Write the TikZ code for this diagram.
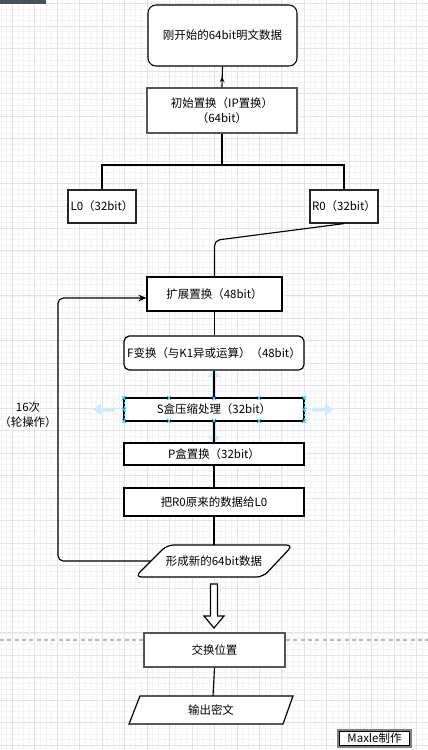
\documentclass[tikz,border=0pt]{standalone}
\usepackage{fontspec}
\setmainfont{Noto Sans CJK SC}
\usetikzlibrary{arrows.meta,decorations.markings,calc}
\definecolor{gridmin}{HTML}{F3F3F3}
\definecolor{gridmaj}{HTML}{E3E3E3}
\definecolor{selblue}{HTML}{29B6F2}
\definecolor{hoverblue}{HTML}{D0E9F7}
\definecolor{boxgray}{HTML}{555555}
\definecolor{topbar}{HTML}{4A4F55}
\begin{document}
\begin{tikzpicture}[x=0.75pt,y=-0.75pt,
  font=\fontsize{8.6pt}{11pt}\selectfont,
  box/.style={draw, fill=white, line width=0.9pt, inner sep=1pt, align=center},
  wh/.style 2 args={minimum width=#1*0.75pt, minimum height=#2*0.75pt},
  conn/.style={draw, line width=0.85pt},
  midarrow/.style={postaction={decorate}, decoration={markings, mark=at position 0.5 with {\arrow{Stealth[length=4pt,width=3.5pt]}}}},
  hov/.style={fill=hoverblue, draw=none},
  selx/.style={draw=selblue, line width=0.6pt}
]
\useasboundingbox (0,0) rectangle (428,750);
\fill[white] (0,0) rectangle (428,750);
% grid
\foreach \i in {0,...,76} \draw[gridmin, line width=0.6pt] ({1.06+\i*5.6175},0) -- ({1.06+\i*5.6175},750);
\foreach \i in {0,...,132} \draw[gridmin, line width=0.6pt] (0,{3.8+\i*5.6175}) -- (428,{3.8+\i*5.6175});
\foreach \i in {0,...,18} \draw[gridmaj, line width=0.75pt] ({12.3+\i*22.47},0) -- ({12.3+\i*22.47},750);
\foreach \i in {0,...,33} \draw[gridmaj, line width=0.75pt] (0,{3.8+\i*22.47}) -- (428,{3.8+\i*22.47});
% top-left bar
\fill[topbar] (0,0) rectangle (46,3.5);
% page break dashed line
\draw[gray!55, line width=0.8pt, dash pattern=on 3pt off 2.5pt] (0,640) -- (428,640);
% hover arrows
\path[hov] (93,409.5) -- (101,403.5) -- (101,407.5) -- (115,407.5) -- (115,411.5) -- (101,411.5) -- (101,415.5) -- cycle;
\path[hov] (333,409.5) -- (325,403.5) -- (325,407.5) -- (312,407.5) -- (312,411.5) -- (325,411.5) -- (325,415.5) -- cycle;
\path[hov] (214,369) -- (208,377) -- (212,377) -- (212,396) -- (216,396) -- (216,377) -- (220,377) -- cycle;
\path[hov] (214,444) -- (208,436) -- (212,436) -- (212,423) -- (216,423) -- (216,436) -- (220,436) -- cycle;
% nodes
\node[box, rounded corners=6pt, wh={149}{61}, line width=0.8pt] (top) at (222.5,35.5) {刚开始的64bit明文数据};
\node[box, draw=boxgray, line width=1.4pt, wh={150}{45}] (ip) at (222,110.5) {初始置换（IP置换）\\（64bit）};
\node[box, draw=black!85, wh={68}{33}] (l0) at (102,206.5) {L0（32bit）};
\node[box, draw=black!85, wh={68}{33}] (r0) at (344,206.5) {R0（32bit）};
\node[box, wh={135}{34}] (exp) at (214.5,294) {扩展置换（48bit）};
\node[box, rounded corners=4pt, wh={180}{34}] (fbox) at (214,353) {F变换（与K1异或运算）（48bit）};
\node[box, wh={180}{23}] (sbox) at (214,409.5) {S盒压缩处理（32bit）};
\node[box, wh={180}{22}] (pbox) at (214,454) {P盒置换（32bit）};
\node[box, wh={180}{28}] (r2l) at (214,502) {把R0原来的数据给L0};
\draw[fill=white, line width=0.9pt, rounded corners=5pt] (167,545) -- (293,545) -- (263,577) -- (135,577) -- cycle;
\node[inner sep=1pt] (newd) at (214,561) {形成新的64bit数据};
\coordinate (ndtop) at (214,545);
\coordinate (ndleft) at (151,561);
\node[box, draw=boxgray, line width=1.4pt, wh={141}{34}] (swap) at (214.5,650) {交换位置};
\draw[fill=white, line width=0.9pt] (140,696) -- (293,696) -- (283,724) -- (129,724) -- cycle;
\node[inner sep=1pt] (outp) at (211,710) {输出密文};
\coordinate (outtop) at (213,696);
\node[draw=gray, fill=white, line width=0.9pt, wh={73}{17}, inner sep=0pt] (mx) at (374.5,738.5) {};
\node[draw=black, line width=0.6pt, wh={70}{14}, inner sep=0pt] (mxt) at (374.5,738.5) {Maxle制作};
\node[align=center, inner sep=0pt] (loopl) at (28,415) {16次\\（轮操作）};
% connectors
\draw[conn, midarrow] (ip.north) -- (top.south);
\draw[conn] (ip.south) -- ++(0,31) coordinate (split);
\draw[conn] (l0.north) |- (split) -| (r0.north);
\draw[conn, rounded corners=4pt] (r0.south) -- ($(exp.north)+(0,-36)$) -- (exp.north);
\draw[conn] (exp.south) -- (exp.south |- fbox.north);
\draw[conn] (fbox.south) -- (sbox.north);
\draw[conn] (sbox.south) -- (pbox.north);
\draw[conn] (pbox.south) -- (r2l.north);
\draw[conn] (r2l.south) -- (ndtop);
\draw[conn, rounded corners=4pt, -{Stealth[length=6pt,width=5pt]}] (ndleft) -- (58,561) -- (58,298) -- ($(exp.west)+(0,4)$);
\draw[line width=0.9pt, fill=white] (210.5,584) -- (217.5,584) -- (217.5,616) -- (224,616) -- (214,628) -- (204,616) -- (210.5,616) -- cycle;
\draw[conn] (swap.south) -- (outtop);
% selection marks on S box
\draw[selblue, line width=0.6pt, dash pattern=on 1.5pt off 1.5pt] (124,398) -- (124,421) (304,398) -- (304,421);
\foreach \xx in {124,169,214,259,304} {
  \foreach \yy in {398,421} {
    \draw[selx] (\xx-1.8,\yy-1.8) -- (\xx+1.8,\yy+1.8) (\xx-1.8,\yy+1.8) -- (\xx+1.8,\yy-1.8);
  }
}
\foreach \xx in {124,304} \draw[selx] (\xx-1.8,407.7) -- (\xx+1.8,411.3) (\xx-1.8,411.3) -- (\xx+1.8,407.7);
\end{tikzpicture}
\end{document}
